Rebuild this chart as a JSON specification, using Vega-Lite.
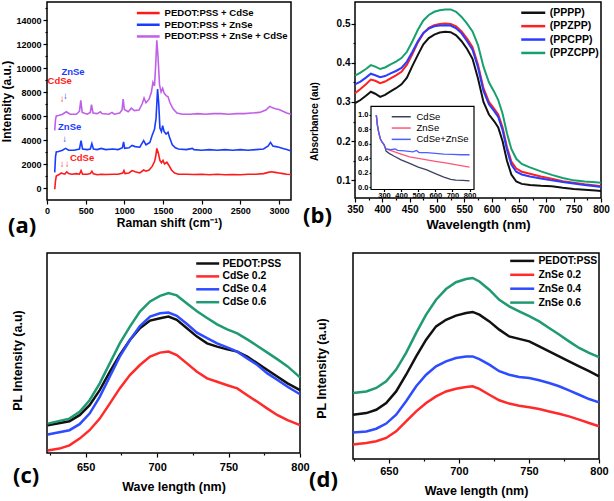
{
  "$schema": "https://vega.github.io/schema/vega-lite/v6.json",
  "padding": {"left": 0, "top": 1, "right": 0, "bottom": 0},
  "background": "white",
  "config": {
    "font": "Liberation Sans",
    "view": {"stroke": "black", "strokeWidth": 1.5},
    "axis": {"grid": false, "domain": false, "labelFontWeight": "bold", "titleFontWeight": "bold", "labelColor": "black", "titleColor": "black", "tickColor": "black", "tickWidth": 1.2, "labelFlush": false, "labelOverlap": false},
    "legend": {"labelFontWeight": "bold", "labelColor": "black", "padding": 0},
    "title": {"font": "Open Sans", "fontSize": 22, "fontWeight": "bold", "color": "black", "offset": 0}
  },
  "datasets": {
    "raman": [
      {"s":"PEDOT:PSS + ZnSe + CdSe","x":100,"y":4800},{"s":"PEDOT:PSS + ZnSe + CdSe","x":110,"y":5700},{"s":"PEDOT:PSS + ZnSe + CdSe","x":120,"y":6000},{"s":"PEDOT:PSS + ZnSe + CdSe","x":150,"y":6050},{"s":"PEDOT:PSS + ZnSe + CdSe","x":200,"y":6150},{"s":"PEDOT:PSS + ZnSe + CdSe","x":250,"y":6350},{"s":"PEDOT:PSS + ZnSe + CdSe","x":300,"y":6150},{"s":"PEDOT:PSS + ZnSe + CdSe","x":380,"y":6150},{"s":"PEDOT:PSS + ZnSe + CdSe","x":420,"y":6400},{"s":"PEDOT:PSS + ZnSe + CdSe","x":437,"y":7300},{"s":"PEDOT:PSS + ZnSe + CdSe","x":455,"y":6300},{"s":"PEDOT:PSS + ZnSe + CdSe","x":520,"y":6150},{"s":"PEDOT:PSS + ZnSe + CdSe","x":560,"y":6300},{"s":"PEDOT:PSS + ZnSe + CdSe","x":575,"y":6950},{"s":"PEDOT:PSS + ZnSe + CdSe","x":595,"y":6250},{"s":"PEDOT:PSS + ZnSe + CdSe","x":650,"y":6200},{"s":"PEDOT:PSS + ZnSe + CdSe","x":690,"y":6350},{"s":"PEDOT:PSS + ZnSe + CdSe","x":710,"y":6200},{"s":"PEDOT:PSS + ZnSe + CdSe","x":800,"y":6150},{"s":"PEDOT:PSS + ZnSe + CdSe","x":840,"y":6300},{"s":"PEDOT:PSS + ZnSe + CdSe","x":870,"y":6150},{"s":"PEDOT:PSS + ZnSe + CdSe","x":940,"y":6250},{"s":"PEDOT:PSS + ZnSe + CdSe","x":970,"y":6500},{"s":"PEDOT:PSS + ZnSe + CdSe","x":985,"y":7400},{"s":"PEDOT:PSS + ZnSe + CdSe","x":1000,"y":6550},{"s":"PEDOT:PSS + ZnSe + CdSe","x":1050,"y":6350},{"s":"PEDOT:PSS + ZnSe + CdSe","x":1090,"y":6650},{"s":"PEDOT:PSS + ZnSe + CdSe","x":1130,"y":6450},{"s":"PEDOT:PSS + ZnSe + CdSe","x":1190,"y":6500},{"s":"PEDOT:PSS + ZnSe + CdSe","x":1230,"y":7000},{"s":"PEDOT:PSS + ZnSe + CdSe","x":1255,"y":7500},{"s":"PEDOT:PSS + ZnSe + CdSe","x":1280,"y":7100},{"s":"PEDOT:PSS + ZnSe + CdSe","x":1320,"y":7400},{"s":"PEDOT:PSS + ZnSe + CdSe","x":1350,"y":8000},{"s":"PEDOT:PSS + ZnSe + CdSe","x":1370,"y":8800},{"s":"PEDOT:PSS + ZnSe + CdSe","x":1390,"y":8500},{"s":"PEDOT:PSS + ZnSe + CdSe","x":1405,"y":10200},{"s":"PEDOT:PSS + ZnSe + CdSe","x":1420,"y":12300},{"s":"PEDOT:PSS + ZnSe + CdSe","x":1435,"y":11000},{"s":"PEDOT:PSS + ZnSe + CdSe","x":1455,"y":8600},{"s":"PEDOT:PSS + ZnSe + CdSe","x":1475,"y":8000},{"s":"PEDOT:PSS + ZnSe + CdSe","x":1495,"y":8300},{"s":"PEDOT:PSS + ZnSe + CdSe","x":1515,"y":7900},{"s":"PEDOT:PSS + ZnSe + CdSe","x":1540,"y":7700},{"s":"PEDOT:PSS + ZnSe + CdSe","x":1565,"y":7600},{"s":"PEDOT:PSS + ZnSe + CdSe","x":1590,"y":7100},{"s":"PEDOT:PSS + ZnSe + CdSe","x":1630,"y":6600},{"s":"PEDOT:PSS + ZnSe + CdSe","x":1680,"y":6250},{"s":"PEDOT:PSS + ZnSe + CdSe","x":1750,"y":6150},{"s":"PEDOT:PSS + ZnSe + CdSe","x":1850,"y":6150},{"s":"PEDOT:PSS + ZnSe + CdSe","x":1950,"y":6200},{"s":"PEDOT:PSS + ZnSe + CdSe","x":2050,"y":6150},{"s":"PEDOT:PSS + ZnSe + CdSe","x":2150,"y":6200},{"s":"PEDOT:PSS + ZnSe + CdSe","x":2250,"y":6200},{"s":"PEDOT:PSS + ZnSe + CdSe","x":2350,"y":6150},{"s":"PEDOT:PSS + ZnSe + CdSe","x":2450,"y":6200},{"s":"PEDOT:PSS + ZnSe + CdSe","x":2550,"y":6200},{"s":"PEDOT:PSS + ZnSe + CdSe","x":2650,"y":6250},{"s":"PEDOT:PSS + ZnSe + CdSe","x":2750,"y":6300},{"s":"PEDOT:PSS + ZnSe + CdSe","x":2830,"y":6500},{"s":"PEDOT:PSS + ZnSe + CdSe","x":2880,"y":6800},{"s":"PEDOT:PSS + ZnSe + CdSe","x":2910,"y":6700},{"s":"PEDOT:PSS + ZnSe + CdSe","x":2950,"y":6600},{"s":"PEDOT:PSS + ZnSe + CdSe","x":3000,"y":6550},{"s":"PEDOT:PSS + ZnSe + CdSe","x":3050,"y":6400},{"s":"PEDOT:PSS + ZnSe + CdSe","x":3100,"y":6250},{"s":"PEDOT:PSS + ZnSe + CdSe","x":3155,"y":6150},
      {"s":"PEDOT:PSS + CdSe","x":100,"y":-100},{"s":"PEDOT:PSS + CdSe","x":110,"y":600},{"s":"PEDOT:PSS + CdSe","x":120,"y":1000},{"s":"PEDOT:PSS + CdSe","x":150,"y":1100},{"s":"PEDOT:PSS + CdSe","x":185,"y":1250},{"s":"PEDOT:PSS + CdSe","x":200,"y":1200},{"s":"PEDOT:PSS + CdSe","x":230,"y":1150},{"s":"PEDOT:PSS + CdSe","x":255,"y":1350},{"s":"PEDOT:PSS + CdSe","x":280,"y":1200},{"s":"PEDOT:PSS + CdSe","x":320,"y":1150},{"s":"PEDOT:PSS + CdSe","x":380,"y":1200},{"s":"PEDOT:PSS + CdSe","x":420,"y":1150},{"s":"PEDOT:PSS + CdSe","x":440,"y":1450},{"s":"PEDOT:PSS + CdSe","x":460,"y":1150},{"s":"PEDOT:PSS + CdSe","x":520,"y":1150},{"s":"PEDOT:PSS + CdSe","x":560,"y":1200},{"s":"PEDOT:PSS + CdSe","x":580,"y":1400},{"s":"PEDOT:PSS + CdSe","x":600,"y":1180},{"s":"PEDOT:PSS + CdSe","x":650,"y":1100},{"s":"PEDOT:PSS + CdSe","x":700,"y":1150},{"s":"PEDOT:PSS + CdSe","x":760,"y":1120},{"s":"PEDOT:PSS + CdSe","x":850,"y":1150},{"s":"PEDOT:PSS + CdSe","x":920,"y":1150},{"s":"PEDOT:PSS + CdSe","x":980,"y":1250},{"s":"PEDOT:PSS + CdSe","x":995,"y":1450},{"s":"PEDOT:PSS + CdSe","x":1010,"y":1200},{"s":"PEDOT:PSS + CdSe","x":1060,"y":1250},{"s":"PEDOT:PSS + CdSe","x":1100,"y":1450},{"s":"PEDOT:PSS + CdSe","x":1140,"y":1350},{"s":"PEDOT:PSS + CdSe","x":1200,"y":1250},{"s":"PEDOT:PSS + CdSe","x":1250,"y":1500},{"s":"PEDOT:PSS + CdSe","x":1280,"y":1400},{"s":"PEDOT:PSS + CdSe","x":1320,"y":1500},{"s":"PEDOT:PSS + CdSe","x":1360,"y":1800},{"s":"PEDOT:PSS + CdSe","x":1390,"y":2200},{"s":"PEDOT:PSS + CdSe","x":1405,"y":2600},{"s":"PEDOT:PSS + CdSe","x":1420,"y":3300},{"s":"PEDOT:PSS + CdSe","x":1440,"y":2900},{"s":"PEDOT:PSS + CdSe","x":1460,"y":2300},{"s":"PEDOT:PSS + CdSe","x":1480,"y":2100},{"s":"PEDOT:PSS + CdSe","x":1500,"y":2300},{"s":"PEDOT:PSS + CdSe","x":1520,"y":2000},{"s":"PEDOT:PSS + CdSe","x":1550,"y":2150},{"s":"PEDOT:PSS + CdSe","x":1575,"y":1900},{"s":"PEDOT:PSS + CdSe","x":1610,"y":1500},{"s":"PEDOT:PSS + CdSe","x":1650,"y":1250},{"s":"PEDOT:PSS + CdSe","x":1700,"y":1150},{"s":"PEDOT:PSS + CdSe","x":1800,"y":1150},{"s":"PEDOT:PSS + CdSe","x":1900,"y":1120},{"s":"PEDOT:PSS + CdSe","x":2000,"y":1150},{"s":"PEDOT:PSS + CdSe","x":2100,"y":1100},{"s":"PEDOT:PSS + CdSe","x":2200,"y":1150},{"s":"PEDOT:PSS + CdSe","x":2300,"y":1100},{"s":"PEDOT:PSS + CdSe","x":2400,"y":1120},{"s":"PEDOT:PSS + CdSe","x":2500,"y":1100},{"s":"PEDOT:PSS + CdSe","x":2600,"y":1150},{"s":"PEDOT:PSS + CdSe","x":2700,"y":1150},{"s":"PEDOT:PSS + CdSe","x":2800,"y":1200},{"s":"PEDOT:PSS + CdSe","x":2860,"y":1300},{"s":"PEDOT:PSS + CdSe","x":2900,"y":1350},{"s":"PEDOT:PSS + CdSe","x":2950,"y":1300},{"s":"PEDOT:PSS + CdSe","x":3000,"y":1250},{"s":"PEDOT:PSS + CdSe","x":3050,"y":1200},{"s":"PEDOT:PSS + CdSe","x":3100,"y":1150},{"s":"PEDOT:PSS + CdSe","x":3155,"y":1130},
      {"s":"PEDOT:PSS + ZnSe","x":100,"y":1300},{"s":"PEDOT:PSS + ZnSe","x":110,"y":2600},{"s":"PEDOT:PSS + ZnSe","x":120,"y":3000},{"s":"PEDOT:PSS + ZnSe","x":150,"y":3050},{"s":"PEDOT:PSS + ZnSe","x":200,"y":3150},{"s":"PEDOT:PSS + ZnSe","x":240,"y":3300},{"s":"PEDOT:PSS + ZnSe","x":280,"y":3150},{"s":"PEDOT:PSS + ZnSe","x":350,"y":3150},{"s":"PEDOT:PSS + ZnSe","x":420,"y":3250},{"s":"PEDOT:PSS + ZnSe","x":440,"y":3950},{"s":"PEDOT:PSS + ZnSe","x":460,"y":3250},{"s":"PEDOT:PSS + ZnSe","x":520,"y":3200},{"s":"PEDOT:PSS + ZnSe","x":560,"y":3250},{"s":"PEDOT:PSS + ZnSe","x":580,"y":3700},{"s":"PEDOT:PSS + ZnSe","x":600,"y":3250},{"s":"PEDOT:PSS + ZnSe","x":650,"y":3200},{"s":"PEDOT:PSS + ZnSe","x":700,"y":3300},{"s":"PEDOT:PSS + ZnSe","x":760,"y":3200},{"s":"PEDOT:PSS + ZnSe","x":850,"y":3250},{"s":"PEDOT:PSS + ZnSe","x":920,"y":3200},{"s":"PEDOT:PSS + ZnSe","x":975,"y":3350},{"s":"PEDOT:PSS + ZnSe","x":990,"y":3850},{"s":"PEDOT:PSS + ZnSe","x":1005,"y":3300},{"s":"PEDOT:PSS + ZnSe","x":1060,"y":3350},{"s":"PEDOT:PSS + ZnSe","x":1100,"y":3550},{"s":"PEDOT:PSS + ZnSe","x":1140,"y":3450},{"s":"PEDOT:PSS + ZnSe","x":1200,"y":3400},{"s":"PEDOT:PSS + ZnSe","x":1250,"y":3950},{"s":"PEDOT:PSS + ZnSe","x":1280,"y":3600},{"s":"PEDOT:PSS + ZnSe","x":1330,"y":3800},{"s":"PEDOT:PSS + ZnSe","x":1360,"y":4400},{"s":"PEDOT:PSS + ZnSe","x":1390,"y":4900},{"s":"PEDOT:PSS + ZnSe","x":1410,"y":5800},{"s":"PEDOT:PSS + ZnSe","x":1430,"y":8250},{"s":"PEDOT:PSS + ZnSe","x":1445,"y":7000},{"s":"PEDOT:PSS + ZnSe","x":1460,"y":5000},{"s":"PEDOT:PSS + ZnSe","x":1480,"y":4700},{"s":"PEDOT:PSS + ZnSe","x":1495,"y":5200},{"s":"PEDOT:PSS + ZnSe","x":1515,"y":4700},{"s":"PEDOT:PSS + ZnSe","x":1540,"y":4500},{"s":"PEDOT:PSS + ZnSe","x":1565,"y":4650},{"s":"PEDOT:PSS + ZnSe","x":1585,"y":4200},{"s":"PEDOT:PSS + ZnSe","x":1620,"y":3600},{"s":"PEDOT:PSS + ZnSe","x":1660,"y":3350},{"s":"PEDOT:PSS + ZnSe","x":1700,"y":3250},{"s":"PEDOT:PSS + ZnSe","x":1800,"y":3200},{"s":"PEDOT:PSS + ZnSe","x":1880,"y":3300},{"s":"PEDOT:PSS + ZnSe","x":1900,"y":3200},{"s":"PEDOT:PSS + ZnSe","x":2000,"y":3150},{"s":"PEDOT:PSS + ZnSe","x":2100,"y":3200},{"s":"PEDOT:PSS + ZnSe","x":2200,"y":3150},{"s":"PEDOT:PSS + ZnSe","x":2300,"y":3200},{"s":"PEDOT:PSS + ZnSe","x":2400,"y":3150},{"s":"PEDOT:PSS + ZnSe","x":2500,"y":3200},{"s":"PEDOT:PSS + ZnSe","x":2600,"y":3150},{"s":"PEDOT:PSS + ZnSe","x":2700,"y":3200},{"s":"PEDOT:PSS + ZnSe","x":2800,"y":3250},{"s":"PEDOT:PSS + ZnSe","x":2860,"y":3500},{"s":"PEDOT:PSS + ZnSe","x":2890,"y":3800},{"s":"PEDOT:PSS + ZnSe","x":2920,"y":3500},{"s":"PEDOT:PSS + ZnSe","x":2960,"y":3450},{"s":"PEDOT:PSS + ZnSe","x":3000,"y":3400},{"s":"PEDOT:PSS + ZnSe","x":3050,"y":3300},{"s":"PEDOT:PSS + ZnSe","x":3100,"y":3200},{"s":"PEDOT:PSS + ZnSe","x":3155,"y":3080}
    ],
    "ramanAnn": [
      {"k":"CdSe","t":"CdSe","x":164,"y":8890},{"k":"ZnSe","t":"ZnSe","x":336,"y":9700},{"k":"CdSe","t":"↓","x":194,"y":7420},{"k":"ZnSe","t":"↓","x":237,"y":7670},{"k":"ZnSe","t":"ZnSe","x":293,"y":5058},{"k":"ZnSe","t":"↓","x":229,"y":4110},{"k":"CdSe","t":"CdSe","x":453,"y":2475},{"k":"CdSe","t":"↓","x":194,"y":2000},{"k":"CdSe","t":"↓","x":259,"y":2000}
    ],
    "abs": [
      {"s":"(PPPP)","x":350,"y":0.297},{"s":"(PPPP)","x":360,"y":0.305},{"s":"(PPPP)","x":370,"y":0.316},{"s":"(PPPP)","x":379,"y":0.326},{"s":"(PPPP)","x":387,"y":0.321},{"s":"(PPPP)","x":396,"y":0.313},{"s":"(PPPP)","x":405,"y":0.318},{"s":"(PPPP)","x":415,"y":0.327},{"s":"(PPPP)","x":425,"y":0.335},{"s":"(PPPP)","x":435,"y":0.345},{"s":"(PPPP)","x":445,"y":0.362},{"s":"(PPPP)","x":455,"y":0.392},{"s":"(PPPP)","x":465,"y":0.42},{"s":"(PPPP)","x":475,"y":0.447},{"s":"(PPPP)","x":485,"y":0.463},{"s":"(PPPP)","x":495,"y":0.472},{"s":"(PPPP)","x":505,"y":0.477},{"s":"(PPPP)","x":515,"y":0.479},{"s":"(PPPP)","x":525,"y":0.478},{"s":"(PPPP)","x":535,"y":0.47},{"s":"(PPPP)","x":545,"y":0.455},{"s":"(PPPP)","x":555,"y":0.435},{"s":"(PPPP)","x":565,"y":0.41},{"s":"(PPPP)","x":575,"y":0.36},{"s":"(PPPP)","x":585,"y":0.3},{"s":"(PPPP)","x":595,"y":0.268},{"s":"(PPPP)","x":605,"y":0.25},{"s":"(PPPP)","x":612,"y":0.235},{"s":"(PPPP)","x":620,"y":0.2},{"s":"(PPPP)","x":628,"y":0.15},{"s":"(PPPP)","x":636,"y":0.115},{"s":"(PPPP)","x":645,"y":0.097},{"s":"(PPPP)","x":655,"y":0.091},{"s":"(PPPP)","x":670,"y":0.088},{"s":"(PPPP)","x":690,"y":0.086},{"s":"(PPPP)","x":710,"y":0.085},{"s":"(PPPP)","x":730,"y":0.081},{"s":"(PPPP)","x":750,"y":0.078},{"s":"(PPPP)","x":770,"y":0.076},{"s":"(PPPP)","x":790,"y":0.074},{"s":"(PPPP)","x":800,"y":0.073},
      {"s":"(PPZPP)","x":350,"y":0.322},{"s":"(PPZPP)","x":360,"y":0.333},{"s":"(PPZPP)","x":370,"y":0.345},{"s":"(PPZPP)","x":379,"y":0.357},{"s":"(PPZPP)","x":387,"y":0.354},{"s":"(PPZPP)","x":396,"y":0.348},{"s":"(PPZPP)","x":405,"y":0.352},{"s":"(PPZPP)","x":415,"y":0.36},{"s":"(PPZPP)","x":425,"y":0.368},{"s":"(PPZPP)","x":435,"y":0.377},{"s":"(PPZPP)","x":445,"y":0.395},{"s":"(PPZPP)","x":455,"y":0.422},{"s":"(PPZPP)","x":465,"y":0.452},{"s":"(PPZPP)","x":475,"y":0.475},{"s":"(PPZPP)","x":485,"y":0.489},{"s":"(PPZPP)","x":495,"y":0.496},{"s":"(PPZPP)","x":505,"y":0.499},{"s":"(PPZPP)","x":515,"y":0.5},{"s":"(PPZPP)","x":525,"y":0.499},{"s":"(PPZPP)","x":535,"y":0.493},{"s":"(PPZPP)","x":545,"y":0.48},{"s":"(PPZPP)","x":555,"y":0.462},{"s":"(PPZPP)","x":565,"y":0.44},{"s":"(PPZPP)","x":575,"y":0.395},{"s":"(PPZPP)","x":585,"y":0.335},{"s":"(PPZPP)","x":595,"y":0.3},{"s":"(PPZPP)","x":605,"y":0.282},{"s":"(PPZPP)","x":612,"y":0.268},{"s":"(PPZPP)","x":620,"y":0.235},{"s":"(PPZPP)","x":628,"y":0.185},{"s":"(PPZPP)","x":636,"y":0.148},{"s":"(PPZPP)","x":645,"y":0.13},{"s":"(PPZPP)","x":655,"y":0.122},{"s":"(PPZPP)","x":670,"y":0.117},{"s":"(PPZPP)","x":690,"y":0.11},{"s":"(PPZPP)","x":710,"y":0.104},{"s":"(PPZPP)","x":730,"y":0.098},{"s":"(PPZPP)","x":750,"y":0.094},{"s":"(PPZPP)","x":770,"y":0.09},{"s":"(PPZPP)","x":790,"y":0.087},{"s":"(PPZPP)","x":800,"y":0.085},
      {"s":"(PPCPP)","x":350,"y":0.345},{"s":"(PPCPP)","x":360,"y":0.352},{"s":"(PPCPP)","x":370,"y":0.362},{"s":"(PPCPP)","x":379,"y":0.372},{"s":"(PPCPP)","x":387,"y":0.368},{"s":"(PPCPP)","x":396,"y":0.363},{"s":"(PPCPP)","x":405,"y":0.366},{"s":"(PPCPP)","x":415,"y":0.373},{"s":"(PPCPP)","x":425,"y":0.379},{"s":"(PPCPP)","x":435,"y":0.387},{"s":"(PPCPP)","x":445,"y":0.403},{"s":"(PPCPP)","x":455,"y":0.428},{"s":"(PPCPP)","x":465,"y":0.455},{"s":"(PPCPP)","x":475,"y":0.476},{"s":"(PPCPP)","x":485,"y":0.487},{"s":"(PPCPP)","x":495,"y":0.493},{"s":"(PPCPP)","x":505,"y":0.495},{"s":"(PPCPP)","x":515,"y":0.496},{"s":"(PPCPP)","x":525,"y":0.495},{"s":"(PPCPP)","x":535,"y":0.488},{"s":"(PPCPP)","x":545,"y":0.475},{"s":"(PPCPP)","x":555,"y":0.455},{"s":"(PPCPP)","x":565,"y":0.433},{"s":"(PPCPP)","x":575,"y":0.388},{"s":"(PPCPP)","x":585,"y":0.328},{"s":"(PPCPP)","x":595,"y":0.294},{"s":"(PPCPP)","x":605,"y":0.276},{"s":"(PPCPP)","x":612,"y":0.262},{"s":"(PPCPP)","x":620,"y":0.228},{"s":"(PPCPP)","x":628,"y":0.178},{"s":"(PPCPP)","x":636,"y":0.14},{"s":"(PPCPP)","x":645,"y":0.122},{"s":"(PPCPP)","x":655,"y":0.115},{"s":"(PPCPP)","x":670,"y":0.11},{"s":"(PPCPP)","x":690,"y":0.105},{"s":"(PPCPP)","x":710,"y":0.1},{"s":"(PPCPP)","x":730,"y":0.096},{"s":"(PPCPP)","x":750,"y":0.092},{"s":"(PPCPP)","x":770,"y":0.088},{"s":"(PPCPP)","x":790,"y":0.085},{"s":"(PPCPP)","x":800,"y":0.083},
      {"s":"(PPZCPP)","x":350,"y":0.367},{"s":"(PPZCPP)","x":360,"y":0.375},{"s":"(PPZCPP)","x":370,"y":0.384},{"s":"(PPZCPP)","x":379,"y":0.394},{"s":"(PPZCPP)","x":387,"y":0.39},{"s":"(PPZCPP)","x":396,"y":0.384},{"s":"(PPZCPP)","x":405,"y":0.388},{"s":"(PPZCPP)","x":415,"y":0.396},{"s":"(PPZCPP)","x":425,"y":0.403},{"s":"(PPZCPP)","x":435,"y":0.412},{"s":"(PPZCPP)","x":445,"y":0.428},{"s":"(PPZCPP)","x":455,"y":0.455},{"s":"(PPZCPP)","x":465,"y":0.484},{"s":"(PPZCPP)","x":475,"y":0.508},{"s":"(PPZCPP)","x":485,"y":0.522},{"s":"(PPZCPP)","x":495,"y":0.53},{"s":"(PPZCPP)","x":505,"y":0.534},{"s":"(PPZCPP)","x":515,"y":0.536},{"s":"(PPZCPP)","x":525,"y":0.536},{"s":"(PPZCPP)","x":535,"y":0.53},{"s":"(PPZCPP)","x":545,"y":0.517},{"s":"(PPZCPP)","x":555,"y":0.5},{"s":"(PPZCPP)","x":565,"y":0.48},{"s":"(PPZCPP)","x":575,"y":0.445},{"s":"(PPZCPP)","x":585,"y":0.39},{"s":"(PPZCPP)","x":595,"y":0.35},{"s":"(PPZCPP)","x":605,"y":0.325},{"s":"(PPZCPP)","x":612,"y":0.305},{"s":"(PPZCPP)","x":620,"y":0.27},{"s":"(PPZCPP)","x":628,"y":0.22},{"s":"(PPZCPP)","x":636,"y":0.18},{"s":"(PPZCPP)","x":645,"y":0.155},{"s":"(PPZCPP)","x":655,"y":0.142},{"s":"(PPZCPP)","x":670,"y":0.133},{"s":"(PPZCPP)","x":690,"y":0.123},{"s":"(PPZCPP)","x":710,"y":0.114},{"s":"(PPZCPP)","x":730,"y":0.106},{"s":"(PPZCPP)","x":750,"y":0.1},{"s":"(PPZCPP)","x":770,"y":0.097},{"s":"(PPZCPP)","x":790,"y":0.095},{"s":"(PPZCPP)","x":800,"y":0.094}
    ],
    "inset": [
      {"s":"CdSe","x":255,"y":1.0},{"s":"CdSe","x":262,"y":0.85},{"s":"CdSe","x":270,"y":0.75},{"s":"CdSe","x":280,"y":0.66},{"s":"CdSe","x":290,"y":0.62},{"s":"CdSe","x":300,"y":0.59},{"s":"CdSe","x":305,"y":0.56},{"s":"CdSe","x":312,"y":0.5},{"s":"CdSe","x":330,"y":0.47},{"s":"CdSe","x":360,"y":0.43},{"s":"CdSe","x":400,"y":0.38},{"s":"CdSe","x":450,"y":0.33},{"s":"CdSe","x":500,"y":0.28},{"s":"CdSe","x":550,"y":0.24},{"s":"CdSe","x":600,"y":0.19},{"s":"CdSe","x":650,"y":0.14},{"s":"CdSe","x":690,"y":0.11},{"s":"CdSe","x":720,"y":0.1},{"s":"CdSe","x":760,"y":0.095},{"s":"CdSe","x":800,"y":0.09},
      {"s":"ZnSe","x":255,"y":1.0},{"s":"ZnSe","x":262,"y":0.85},{"s":"ZnSe","x":270,"y":0.75},{"s":"ZnSe","x":280,"y":0.66},{"s":"ZnSe","x":290,"y":0.62},{"s":"ZnSe","x":300,"y":0.59},{"s":"ZnSe","x":305,"y":0.56},{"s":"ZnSe","x":312,"y":0.53},{"s":"ZnSe","x":350,"y":0.5},{"s":"ZnSe","x":400,"y":0.46},{"s":"ZnSe","x":450,"y":0.42},{"s":"ZnSe","x":500,"y":0.4},{"s":"ZnSe","x":550,"y":0.38},{"s":"ZnSe","x":600,"y":0.36},{"s":"ZnSe","x":650,"y":0.34},{"s":"ZnSe","x":700,"y":0.32},{"s":"ZnSe","x":750,"y":0.3},{"s":"ZnSe","x":800,"y":0.28},
      {"s":"CdSe+ZnSe","x":255,"y":1.0},{"s":"CdSe+ZnSe","x":262,"y":0.85},{"s":"CdSe+ZnSe","x":270,"y":0.75},{"s":"CdSe+ZnSe","x":280,"y":0.66},{"s":"CdSe+ZnSe","x":290,"y":0.62},{"s":"CdSe+ZnSe","x":300,"y":0.59},{"s":"CdSe+ZnSe","x":305,"y":0.56},{"s":"CdSe+ZnSe","x":312,"y":0.53},{"s":"CdSe+ZnSe","x":340,"y":0.52},{"s":"CdSe+ZnSe","x":365,"y":0.53},{"s":"CdSe+ZnSe","x":380,"y":0.51},{"s":"CdSe+ZnSe","x":420,"y":0.505},{"s":"CdSe+ZnSe","x":470,"y":0.49},{"s":"CdSe+ZnSe","x":490,"y":0.51},{"s":"CdSe+ZnSe","x":505,"y":0.48},{"s":"CdSe+ZnSe","x":550,"y":0.48},{"s":"CdSe+ZnSe","x":600,"y":0.47},{"s":"CdSe+ZnSe","x":650,"y":0.46},{"s":"CdSe+ZnSe","x":700,"y":0.455},{"s":"CdSe+ZnSe","x":750,"y":0.45},{"s":"CdSe+ZnSe","x":800,"y":0.45}
    ],
    "plc": [
      {"s":"PEDOT:PSS","x":623.5,"y":13.9},{"s":"PEDOT:PSS","x":638.7,"y":15.9},{"s":"PEDOT:PSS","x":645.8,"y":18.9},{"s":"PEDOT:PSS","x":652.8,"y":23.9},{"s":"PEDOT:PSS","x":659.9,"y":31.4},{"s":"PEDOT:PSS","x":666.9,"y":40.6},{"s":"PEDOT:PSS","x":673.9,"y":49},{"s":"PEDOT:PSS","x":681,"y":56.5},{"s":"PEDOT:PSS","x":688,"y":62.4},{"s":"PEDOT:PSS","x":695.1,"y":66.2},{"s":"PEDOT:PSS","x":702.1,"y":67.4},{"s":"PEDOT:PSS","x":708,"y":68.2},{"s":"PEDOT:PSS","x":713.8,"y":66.6},{"s":"PEDOT:PSS","x":720.9,"y":62.4},{"s":"PEDOT:PSS","x":727.9,"y":58.2},{"s":"PEDOT:PSS","x":735,"y":54.8},{"s":"PEDOT:PSS","x":742,"y":53.2},{"s":"PEDOT:PSS","x":749.1,"y":51.8},{"s":"PEDOT:PSS","x":756.1,"y":50.7},{"s":"PEDOT:PSS","x":763.1,"y":48.2},{"s":"PEDOT:PSS","x":770.2,"y":44.8},{"s":"PEDOT:PSS","x":777.2,"y":41.5},{"s":"PEDOT:PSS","x":784.3,"y":38.1},{"s":"PEDOT:PSS","x":791.3,"y":34.8},{"s":"PEDOT:PSS","x":800,"y":31.4},
      {"s":"CdSe 0.2","x":623.5,"y":1.3},{"s":"CdSe 0.2","x":631.7,"y":2.2},{"s":"CdSe 0.2","x":638.7,"y":3.8},{"s":"CdSe 0.2","x":645.8,"y":7.2},{"s":"CdSe 0.2","x":652.8,"y":11.4},{"s":"CdSe 0.2","x":659.9,"y":17.2},{"s":"CdSe 0.2","x":666.9,"y":24.7},{"s":"CdSe 0.2","x":673.9,"y":32.3},{"s":"CdSe 0.2","x":681,"y":39},{"s":"CdSe 0.2","x":688,"y":44},{"s":"CdSe 0.2","x":695.1,"y":48.2},{"s":"CdSe 0.2","x":702.1,"y":50.2},{"s":"CdSe 0.2","x":708,"y":50.7},{"s":"CdSe 0.2","x":713.8,"y":49},{"s":"CdSe 0.2","x":720.9,"y":44.8},{"s":"CdSe 0.2","x":727.9,"y":40.6},{"s":"CdSe 0.2","x":735,"y":37.3},{"s":"CdSe 0.2","x":742,"y":35.6},{"s":"CdSe 0.2","x":749.1,"y":33.9},{"s":"CdSe 0.2","x":756.1,"y":32.3},{"s":"CdSe 0.2","x":763.1,"y":28.9},{"s":"CdSe 0.2","x":770.2,"y":25.6},{"s":"CdSe 0.2","x":777.2,"y":22.2},{"s":"CdSe 0.2","x":784.3,"y":18.9},{"s":"CdSe 0.2","x":791.3,"y":16.4},{"s":"CdSe 0.2","x":800,"y":13.9},
      {"s":"CdSe 0.4","x":623.5,"y":9.2},{"s":"CdSe 0.4","x":638.7,"y":11.4},{"s":"CdSe 0.4","x":645.8,"y":14.4},{"s":"CdSe 0.4","x":652.8,"y":19.7},{"s":"CdSe 0.4","x":659.9,"y":28.1},{"s":"CdSe 0.4","x":666.9,"y":38.1},{"s":"CdSe 0.4","x":673.9,"y":48.2},{"s":"CdSe 0.4","x":681,"y":56.5},{"s":"CdSe 0.4","x":688,"y":63.5},{"s":"CdSe 0.4","x":695.1,"y":68.2},{"s":"CdSe 0.4","x":702.1,"y":69.9},{"s":"CdSe 0.4","x":708,"y":70.2},{"s":"CdSe 0.4","x":713.8,"y":68.6},{"s":"CdSe 0.4","x":720.9,"y":64.5},{"s":"CdSe 0.4","x":727.9,"y":60.2},{"s":"CdSe 0.4","x":735,"y":57.4},{"s":"CdSe 0.4","x":742,"y":54.8},{"s":"CdSe 0.4","x":749.1,"y":52.8},{"s":"CdSe 0.4","x":756.1,"y":50.7},{"s":"CdSe 0.4","x":763.1,"y":47.3},{"s":"CdSe 0.4","x":770.2,"y":44},{"s":"CdSe 0.4","x":777.2,"y":39.8},{"s":"CdSe 0.4","x":784.3,"y":36.5},{"s":"CdSe 0.4","x":791.3,"y":33.1},{"s":"CdSe 0.4","x":800,"y":29.4},
      {"s":"CdSe 0.6","x":623.5,"y":14.7},{"s":"CdSe 0.6","x":638.7,"y":17.2},{"s":"CdSe 0.6","x":645.8,"y":20.6},{"s":"CdSe 0.6","x":652.8,"y":26.4},{"s":"CdSe 0.6","x":659.9,"y":34.8},{"s":"CdSe 0.6","x":666.9,"y":44.8},{"s":"CdSe 0.6","x":673.9,"y":54.8},{"s":"CdSe 0.6","x":681,"y":63.2},{"s":"CdSe 0.6","x":688,"y":70.7},{"s":"CdSe 0.6","x":695.1,"y":75.8},{"s":"CdSe 0.6","x":702.1,"y":78.6},{"s":"CdSe 0.6","x":708,"y":80},{"s":"CdSe 0.6","x":713.8,"y":78.8},{"s":"CdSe 0.6","x":720.9,"y":74.8},{"s":"CdSe 0.6","x":727.9,"y":70.9},{"s":"CdSe 0.6","x":735,"y":67.5},{"s":"CdSe 0.6","x":742,"y":64.3},{"s":"CdSe 0.6","x":749.1,"y":61.8},{"s":"CdSe 0.6","x":756.1,"y":59.8},{"s":"CdSe 0.6","x":763.1,"y":56.8},{"s":"CdSe 0.6","x":770.2,"y":53.5},{"s":"CdSe 0.6","x":777.2,"y":50.2},{"s":"CdSe 0.6","x":784.3,"y":46.8},{"s":"CdSe 0.6","x":791.3,"y":43.3},{"s":"CdSe 0.6","x":800,"y":37.8}
    ],
    "pld": [
      {"s":"PEDOT:PSS","x":624.4,"y":21.5},{"s":"PEDOT:PSS","x":633.9,"y":22.3},{"s":"PEDOT:PSS","x":641,"y":23.9},{"s":"PEDOT:PSS","x":648.1,"y":27.2},{"s":"PEDOT:PSS","x":655.2,"y":32.8},{"s":"PEDOT:PSS","x":662.3,"y":40.9},{"s":"PEDOT:PSS","x":669.5,"y":49.8},{"s":"PEDOT:PSS","x":676.6,"y":57.9},{"s":"PEDOT:PSS","x":683.7,"y":64.4},{"s":"PEDOT:PSS","x":690.8,"y":67.6},{"s":"PEDOT:PSS","x":697.9,"y":69.6},{"s":"PEDOT:PSS","x":705.1,"y":70.9},{"s":"PEDOT:PSS","x":709.8,"y":71.4},{"s":"PEDOT:PSS","x":714.6,"y":70.1},{"s":"PEDOT:PSS","x":721.7,"y":66.8},{"s":"PEDOT:PSS","x":728.8,"y":62.8},{"s":"PEDOT:PSS","x":735.9,"y":59.5},{"s":"PEDOT:PSS","x":743,"y":58.3},{"s":"PEDOT:PSS","x":750.2,"y":57.1},{"s":"PEDOT:PSS","x":757.3,"y":54.7},{"s":"PEDOT:PSS","x":764.4,"y":52.3},{"s":"PEDOT:PSS","x":771.5,"y":49.8},{"s":"PEDOT:PSS","x":778.6,"y":47.4},{"s":"PEDOT:PSS","x":785.8,"y":45},{"s":"PEDOT:PSS","x":792.9,"y":42.6},{"s":"PEDOT:PSS","x":800,"y":40.1},
      {"s":"ZnSe 0.2","x":624.4,"y":7},{"s":"ZnSe 0.2","x":633.9,"y":7.8},{"s":"ZnSe 0.2","x":641,"y":8.6},{"s":"ZnSe 0.2","x":648.1,"y":10.2},{"s":"ZnSe 0.2","x":655.2,"y":13.4},{"s":"ZnSe 0.2","x":662.3,"y":18.3},{"s":"ZnSe 0.2","x":669.5,"y":23.1},{"s":"ZnSe 0.2","x":676.6,"y":27.2},{"s":"ZnSe 0.2","x":683.7,"y":30.4},{"s":"ZnSe 0.2","x":690.8,"y":32.8},{"s":"ZnSe 0.2","x":697.9,"y":34.1},{"s":"ZnSe 0.2","x":705.1,"y":35},{"s":"ZnSe 0.2","x":709.8,"y":35.3},{"s":"ZnSe 0.2","x":714.6,"y":34},{"s":"ZnSe 0.2","x":721.7,"y":31.2},{"s":"ZnSe 0.2","x":728.8,"y":28.5},{"s":"ZnSe 0.2","x":735.9,"y":26.9},{"s":"ZnSe 0.2","x":743,"y":25.9},{"s":"ZnSe 0.2","x":750.2,"y":25.1},{"s":"ZnSe 0.2","x":757.3,"y":24.3},{"s":"ZnSe 0.2","x":764.4,"y":23.1},{"s":"ZnSe 0.2","x":771.5,"y":22},{"s":"ZnSe 0.2","x":778.6,"y":20.7},{"s":"ZnSe 0.2","x":785.8,"y":19.1},{"s":"ZnSe 0.2","x":792.9,"y":17.5},{"s":"ZnSe 0.2","x":800,"y":15.9},
      {"s":"ZnSe 0.4","x":624.4,"y":12.9},{"s":"ZnSe 0.4","x":633.9,"y":13.4},{"s":"ZnSe 0.4","x":641,"y":14.7},{"s":"ZnSe 0.4","x":648.1,"y":17.2},{"s":"ZnSe 0.4","x":655.2,"y":21.5},{"s":"ZnSe 0.4","x":662.3,"y":28},{"s":"ZnSe 0.4","x":669.5,"y":35.3},{"s":"ZnSe 0.4","x":676.6,"y":40.9},{"s":"ZnSe 0.4","x":683.7,"y":45},{"s":"ZnSe 0.4","x":690.8,"y":47.4},{"s":"ZnSe 0.4","x":697.9,"y":49},{"s":"ZnSe 0.4","x":705.1,"y":49.8},{"s":"ZnSe 0.4","x":709.8,"y":49.8},{"s":"ZnSe 0.4","x":714.6,"y":48.5},{"s":"ZnSe 0.4","x":721.7,"y":45.8},{"s":"ZnSe 0.4","x":728.8,"y":42.6},{"s":"ZnSe 0.4","x":735.9,"y":40.9},{"s":"ZnSe 0.4","x":743,"y":39.8},{"s":"ZnSe 0.4","x":750.2,"y":39.3},{"s":"ZnSe 0.4","x":757.3,"y":38.2},{"s":"ZnSe 0.4","x":764.4,"y":36.9},{"s":"ZnSe 0.4","x":771.5,"y":35.3},{"s":"ZnSe 0.4","x":778.6,"y":33.3},{"s":"ZnSe 0.4","x":785.8,"y":31.2},{"s":"ZnSe 0.4","x":792.9,"y":29.1},{"s":"ZnSe 0.4","x":800,"y":27.5},
      {"s":"ZnSe 0.6","x":624.4,"y":32},{"s":"ZnSe 0.6","x":633.9,"y":32.8},{"s":"ZnSe 0.6","x":641,"y":34.5},{"s":"ZnSe 0.6","x":648.1,"y":37.7},{"s":"ZnSe 0.6","x":655.2,"y":43.4},{"s":"ZnSe 0.6","x":662.3,"y":51.5},{"s":"ZnSe 0.6","x":669.5,"y":61.2},{"s":"ZnSe 0.6","x":676.6,"y":70.1},{"s":"ZnSe 0.6","x":683.7,"y":77.3},{"s":"ZnSe 0.6","x":690.8,"y":82.5},{"s":"ZnSe 0.6","x":697.9,"y":85.8},{"s":"ZnSe 0.6","x":705.1,"y":87.4},{"s":"ZnSe 0.6","x":709.8,"y":87.9},{"s":"ZnSe 0.6","x":714.6,"y":86.2},{"s":"ZnSe 0.6","x":721.7,"y":82.2},{"s":"ZnSe 0.6","x":728.8,"y":77.3},{"s":"ZnSe 0.6","x":735.9,"y":74.1},{"s":"ZnSe 0.6","x":743,"y":71.7},{"s":"ZnSe 0.6","x":750.2,"y":69.3},{"s":"ZnSe 0.6","x":757.3,"y":66.8},{"s":"ZnSe 0.6","x":764.4,"y":63.6},{"s":"ZnSe 0.6","x":771.5,"y":60.4},{"s":"ZnSe 0.6","x":778.6,"y":57.1},{"s":"ZnSe 0.6","x":785.8,"y":53.9},{"s":"ZnSe 0.6","x":792.9,"y":51.5},{"s":"ZnSe 0.6","x":800,"y":49.5}
    ]
  },
  "spacing": 14,
  "resolve": {"scale": {"color": "independent"}, "legend": {"color": "independent"}},
  "vconcat": [
    {
      "spacing": 7,
      "resolve": {"scale": {"color": "independent"}, "legend": {"color": "independent"}},
      "hconcat": [
        {
          "width": 244, "height": 198,
          "title": {"text": "(a)", "orient": "bottom", "anchor": "start", "frame": "group", "dx": -39, "dy": -16},
          "resolve": {"scale": {"y": "independent"}, "axis": {"y": "independent"}},
          "layer": [
            {
              "data": {"name": "raman"},
              "mark": {"type": "line", "strokeWidth": 1.6},
              "encoding": {
                "x": {"field": "x", "type": "quantitative", "scale": {"domain": [0, 3155], "nice": false, "zero": false},
                  "axis": {"title": "Raman shift (cm⁻¹)", "values": [0,250,500,750,1000,1250,1500,1750,2000,2250,2500,2750,3000], "format": "d", "labelExpr": "datum.value % 500 === 0 ? datum.label : ''", "tickSize": {"condition": {"test": "datum.value % 500 === 0", "value": 4}, "value": 2}, "labelOverlap": false, "labelFontSize": 9, "labelPadding": 2, "titleFontSize": 12, "titlePadding": 2}},
                "y": {"field": "y", "type": "quantitative", "scale": {"domain": [-1000, 15500], "nice": false, "zero": false},
                  "axis": {"orient": "left", "title": "Intensity (a.u.)", "values": [0,4000,8000,12000], "format": "d", "tickSize": 4, "labelOverlap": false, "labelFontSize": 9, "labelPadding": 2, "titleFontSize": 12, "titlePadding": 2}},
                "color": {"field": "s", "type": "nominal",
                  "scale": {"domain": ["PEDOT:PSS + CdSe", "PEDOT:PSS + ZnSe", "PEDOT:PSS + ZnSe + CdSe"], "range": ["#ff1a1a", "#1a3cff", "#c060e8"]},
                  "legend": {"title": null, "orient": "none", "legendX": 96.5, "legendY": 6.3, "symbolType": "M-3.8,0H3.8", "symbolSize": 36, "symbolStrokeWidth": 2.5, "labelFontSize": 9.5, "labelOffset": 11.6, "rowPadding": 0.7, "padding": 0}}
              }
            },
            {
              "data": {"name": "ramanAnn"},
              "transform": [{"filter": "datum.k === 'CdSe'"}],
              "mark": {"type": "text", "color": "#ff1a1a", "fontWeight": "bold", "fontSize": 9.5},
              "encoding": {"x": {"field": "x", "type": "quantitative"}, "y": {"field": "y", "type": "quantitative", "scale": {"domain": [-1000, 15500], "nice": false, "zero": false}, "axis": null}, "text": {"field": "t"}}
            },
            {
              "data": {"name": "ramanAnn"},
              "transform": [{"filter": "datum.k === 'ZnSe'"}],
              "mark": {"type": "text", "color": "#1a3cff", "fontWeight": "bold", "fontSize": 9.5},
              "encoding": {"x": {"field": "x", "type": "quantitative"}, "y": {"field": "y", "type": "quantitative", "scale": {"domain": [-1000, 15500], "nice": false, "zero": false}, "axis": null}, "text": {"field": "t"}}
            },
            {
              "data": {"values": [{}]},
              "mark": {"type": "point", "opacity": 0},
              "encoding": {
                "x": {"datum": 1000, "type": "quantitative"},
                "y": {"datum": 0, "type": "quantitative", "scale": {"domain": [-1000, 15500], "nice": false, "zero": false},
                  "axis": {"orient": "left", "title": null, "values": [2000,6000,10000,14000], "format": "d", "tickSize": 4, "labelOverlap": false, "labelFontSize": 9, "labelPadding": 2}}
              }
            },
            {
              "data": {"values": [{}]},
              "mark": {"type": "point", "opacity": 0},
              "encoding": {
                "x": {"datum": 1000, "type": "quantitative"},
                "y": {"datum": 0, "type": "quantitative", "scale": {"domain": [-1000, 15500], "nice": false, "zero": false},
                  "axis": {"orient": "left", "title": null, "values": [1000,3000,5000,7000,9000,11000,13000,15000], "labels": false, "tickSize": 2}}
              }
            }
          ]
        },
        {
          "width": 246, "height": 196,
          "title": {"text": "(b)", "orient": "bottom", "anchor": "start", "frame": "group", "dx": -52, "dy": -29},
          "resolve": {"scale": {"x": "independent", "y": "independent", "color": "independent"}, "axis": {"x": "independent", "y": "independent"}, "legend": {"color": "independent"}},
          "layer": [
            {
              "data": {"name": "abs"},
              "mark": {"type": "line", "strokeWidth": 2},
              "encoding": {
                "x": {"field": "x", "type": "quantitative", "scale": {"domain": [350, 800], "nice": false, "zero": false},
                  "axis": {"orient": "bottom", "title": "Wavelength (nm)", "values": [350,375,400,425,450,475,500,525,550,575,600,625,650,675,700,725,750,775,800], "labelExpr": "datum.value % 50 === 0 ? datum.label : ''", "tickSize": {"condition": {"test": "datum.value % 50 === 0", "value": 4}, "value": 2}, "labelOverlap": false, "labelFontSize": 10, "labelPadding": 2, "titleFontSize": 13, "titlePadding": 4}},
                "y": {"field": "y", "type": "quantitative", "scale": {"domain": [0.055, 0.555], "nice": false, "zero": false},
                  "axis": {"orient": "left", "title": "Absorbance (au)", "titleY": 119, "values": [0.1,0.15,0.2,0.25,0.3,0.35,0.4,0.45,0.5], "format": ".1f", "labelExpr": "round(datum.value*100) % 10 === 0 ? datum.label : ''", "tickSize": {"condition": {"test": "round(datum.value*100) % 10 === 0", "value": 4}, "value": 2}, "labelOverlap": false, "labelFontSize": 10, "labelPadding": 1, "titleFontSize": 10, "titlePadding": 17}},
                "color": {"field": "s", "type": "nominal",
                  "scale": {"domain": ["(PPPP)", "(PPZPP)", "(PPCPP)", "(PPZCPP)"], "range": ["#111111", "#ff2020", "#2a3cff", "#16a06e"]},
                  "legend": {"title": null, "orient": "none", "legendX": 173, "legendY": 5.5, "symbolType": "M-4,0H4", "symbolSize": 36, "symbolStrokeWidth": 2.5, "labelFontSize": 10.5, "labelOffset": 11.3, "rowPadding": 2.4, "padding": 0}}
              }
            },
            {
              "layer": [
                {
                  "data": {"values": [{}]},
                  "mark": {"type": "rect", "fill": "white", "stroke": "black", "strokeWidth": 1.2},
                  "encoding": {
                    "x": {"datum": 224, "type": "quantitative", "scale": {"domain": [224, 826], "range": [16, 119], "nice": false, "zero": false},
                      "axis": {"orient": "bottom", "offset": -8.5, "title": null, "values": [300,400,500,600,700,800], "format": "d", "labelOverlap": false, "labelFontSize": 7.5, "tickSize": 2, "labelPadding": 0}},
                    "x2": {"datum": 826},
                    "y": {"datum": -0.03, "type": "quantitative", "scale": {"domain": [-0.03, 1.12], "range": [187.5, 104.3], "nice": false, "zero": false},
                      "axis": {"orient": "left", "offset": -16, "title": null, "values": [0,0.4,0.8], "format": ".1f", "labelOverlap": false, "labelFontSize": 7.5, "tickSize": 2, "labelPadding": 1}},
                    "y2": {"datum": 1.12}
                  }
                },
                {
                  "data": {"name": "inset"},
                  "mark": {"type": "line", "strokeWidth": 1.3},
                  "encoding": {
                    "x": {"field": "x", "type": "quantitative", "scale": {"domain": [224, 826], "range": [16, 119], "nice": false, "zero": false}},
                    "y": {"field": "y", "type": "quantitative", "scale": {"domain": [-0.03, 1.12], "range": [187.5, 104.3], "nice": false, "zero": false}},
                    "color": {"field": "s", "type": "nominal",
                      "scale": {"domain": ["CdSe", "ZnSe", "CdSe+ZnSe"], "range": ["#3b4262", "#ff5577", "#4d5fff"]},
                      "legend": {"title": null, "orient": "none", "legendX": 41.5, "legendY": 110, "symbolType": "M-3.17,0H3.17", "symbolSize": 36, "symbolStrokeWidth": 1.5, "labelFontSize": 9.5, "labelFontWeight": "normal", "labelOffset": 10.5, "rowPadding": 0.3, "padding": 0}}
                  }
                }
              ]
            },
            {
              "data": {"values": [{}]},
              "mark": {"type": "point", "opacity": 0},
              "encoding": {
                "x": {"datum": 500, "type": "quantitative", "scale": {"domain": [224, 826], "range": [16, 119], "nice": false, "zero": false}, "axis": null},
                "y": {"datum": 0.5, "type": "quantitative", "scale": {"domain": [-0.03, 1.12], "range": [187.5, 104.3], "nice": false, "zero": false},
                  "axis": {"orient": "left", "offset": -16, "title": null, "values": [0.2,0.6,1], "format": ".1f", "labelOverlap": false, "labelFontSize": 7.5, "tickSize": 2, "labelPadding": 1}}
              }
            }
          ]
        }
      ]
    },
    {
      "spacing": -2,
      "resolve": {"scale": {"color": "independent"}, "legend": {"color": "independent"}},
      "hconcat": [
        {
          "width": 253, "height": 200,
          "title": {"text": "(c)", "orient": "bottom", "anchor": "start", "frame": "group", "dx": -34, "dy": -31},
          "data": {"name": "plc"},
          "mark": {"type": "line", "strokeWidth": 2.5},
          "encoding": {
            "x": {"field": "x", "type": "quantitative", "scale": {"domain": [623, 800], "nice": false, "zero": false},
              "axis": {"title": "Wave length (nm)", "values": [625,650,675,700,725,750,775,800], "labelExpr": "datum.value % 50 === 0 ? datum.label : ''", "tickSize": {"condition": {"test": "datum.value % 50 === 0", "value": 4}, "value": 2}, "labelOverlap": false, "labelFontSize": 11, "labelPadding": 4, "titleFontSize": 12.5, "titlePadding": 8}},
            "y": {"field": "y", "type": "quantitative", "scale": {"domain": [0, 100], "nice": false, "zero": false},
              "axis": {"title": "PL Intensity (a.u)", "values": [50], "labelExpr": "'0000'", "labelOpacity": 0, "ticks": false, "tickSize": 0, "labelPadding": 4, "labelFontSize": 11, "titleFontSize": 12.5, "titleX": -30, "titleY": 107, "titleAngle": -90, "titleAlign": "center", "titleBaseline": "middle"}},
            "color": {"field": "s", "type": "nominal",
              "scale": {"domain": ["PEDOT:PSS", "CdSe 0.2", "CdSe 0.4", "CdSe 0.6"], "range": ["#111111", "#ff2a2a", "#2d4bff", "#1f9a72"]},
              "legend": {"title": null, "orient": "none", "legendX": 155.5, "legendY": 5.3, "symbolType": "M-3.83,0H3.83", "symbolSize": 36, "symbolStrokeWidth": 2.5, "labelFontSize": 10.4, "labelOffset": 9.5, "rowPadding": 1.9, "padding": 0}}
          }
        },
        {
          "width": 246, "height": 206,
          "title": {"text": "(d)", "orient": "bottom", "anchor": "start", "frame": "group", "dx": -44, "dy": -31},
          "data": {"name": "pld"},
          "mark": {"type": "line", "strokeWidth": 2.5},
          "encoding": {
            "x": {"field": "x", "type": "quantitative", "scale": {"domain": [624.4, 800], "nice": false, "zero": false},
              "axis": {"title": "Wave length (nm)", "values": [625,650,675,700,725,750,775,800], "labelExpr": "datum.value % 50 === 0 ? datum.label : ''", "tickSize": {"condition": {"test": "datum.value % 50 === 0", "value": 4}, "value": 2}, "labelOverlap": false, "labelFontSize": 11, "labelPadding": 2.5, "titleFontSize": 12.5, "titlePadding": 8}},
            "y": {"field": "y", "type": "quantitative", "scale": {"domain": [0, 100], "nice": false, "zero": false},
              "axis": {"title": "PL Intensity (a.u)", "titleY": 115, "labels": false, "ticks": false, "titleFontSize": 12.5, "titlePadding": 25}},
            "color": {"field": "s", "type": "nominal",
              "scale": {"domain": ["PEDOT:PSS", "ZnSe 0.2", "ZnSe 0.4", "ZnSe 0.6"], "range": ["#111111", "#ff2a2a", "#2d4bff", "#1f9a72"]},
              "legend": {"title": null, "orient": "none", "legendX": 164, "legendY": 2.7, "symbolType": "M-4,0H4", "symbolSize": 36, "symbolStrokeWidth": 2.5, "labelFontSize": 10.4, "labelOffset": 11, "rowPadding": 2.9, "padding": 0}}
          }
        }
      ]
    }
  ]
}
